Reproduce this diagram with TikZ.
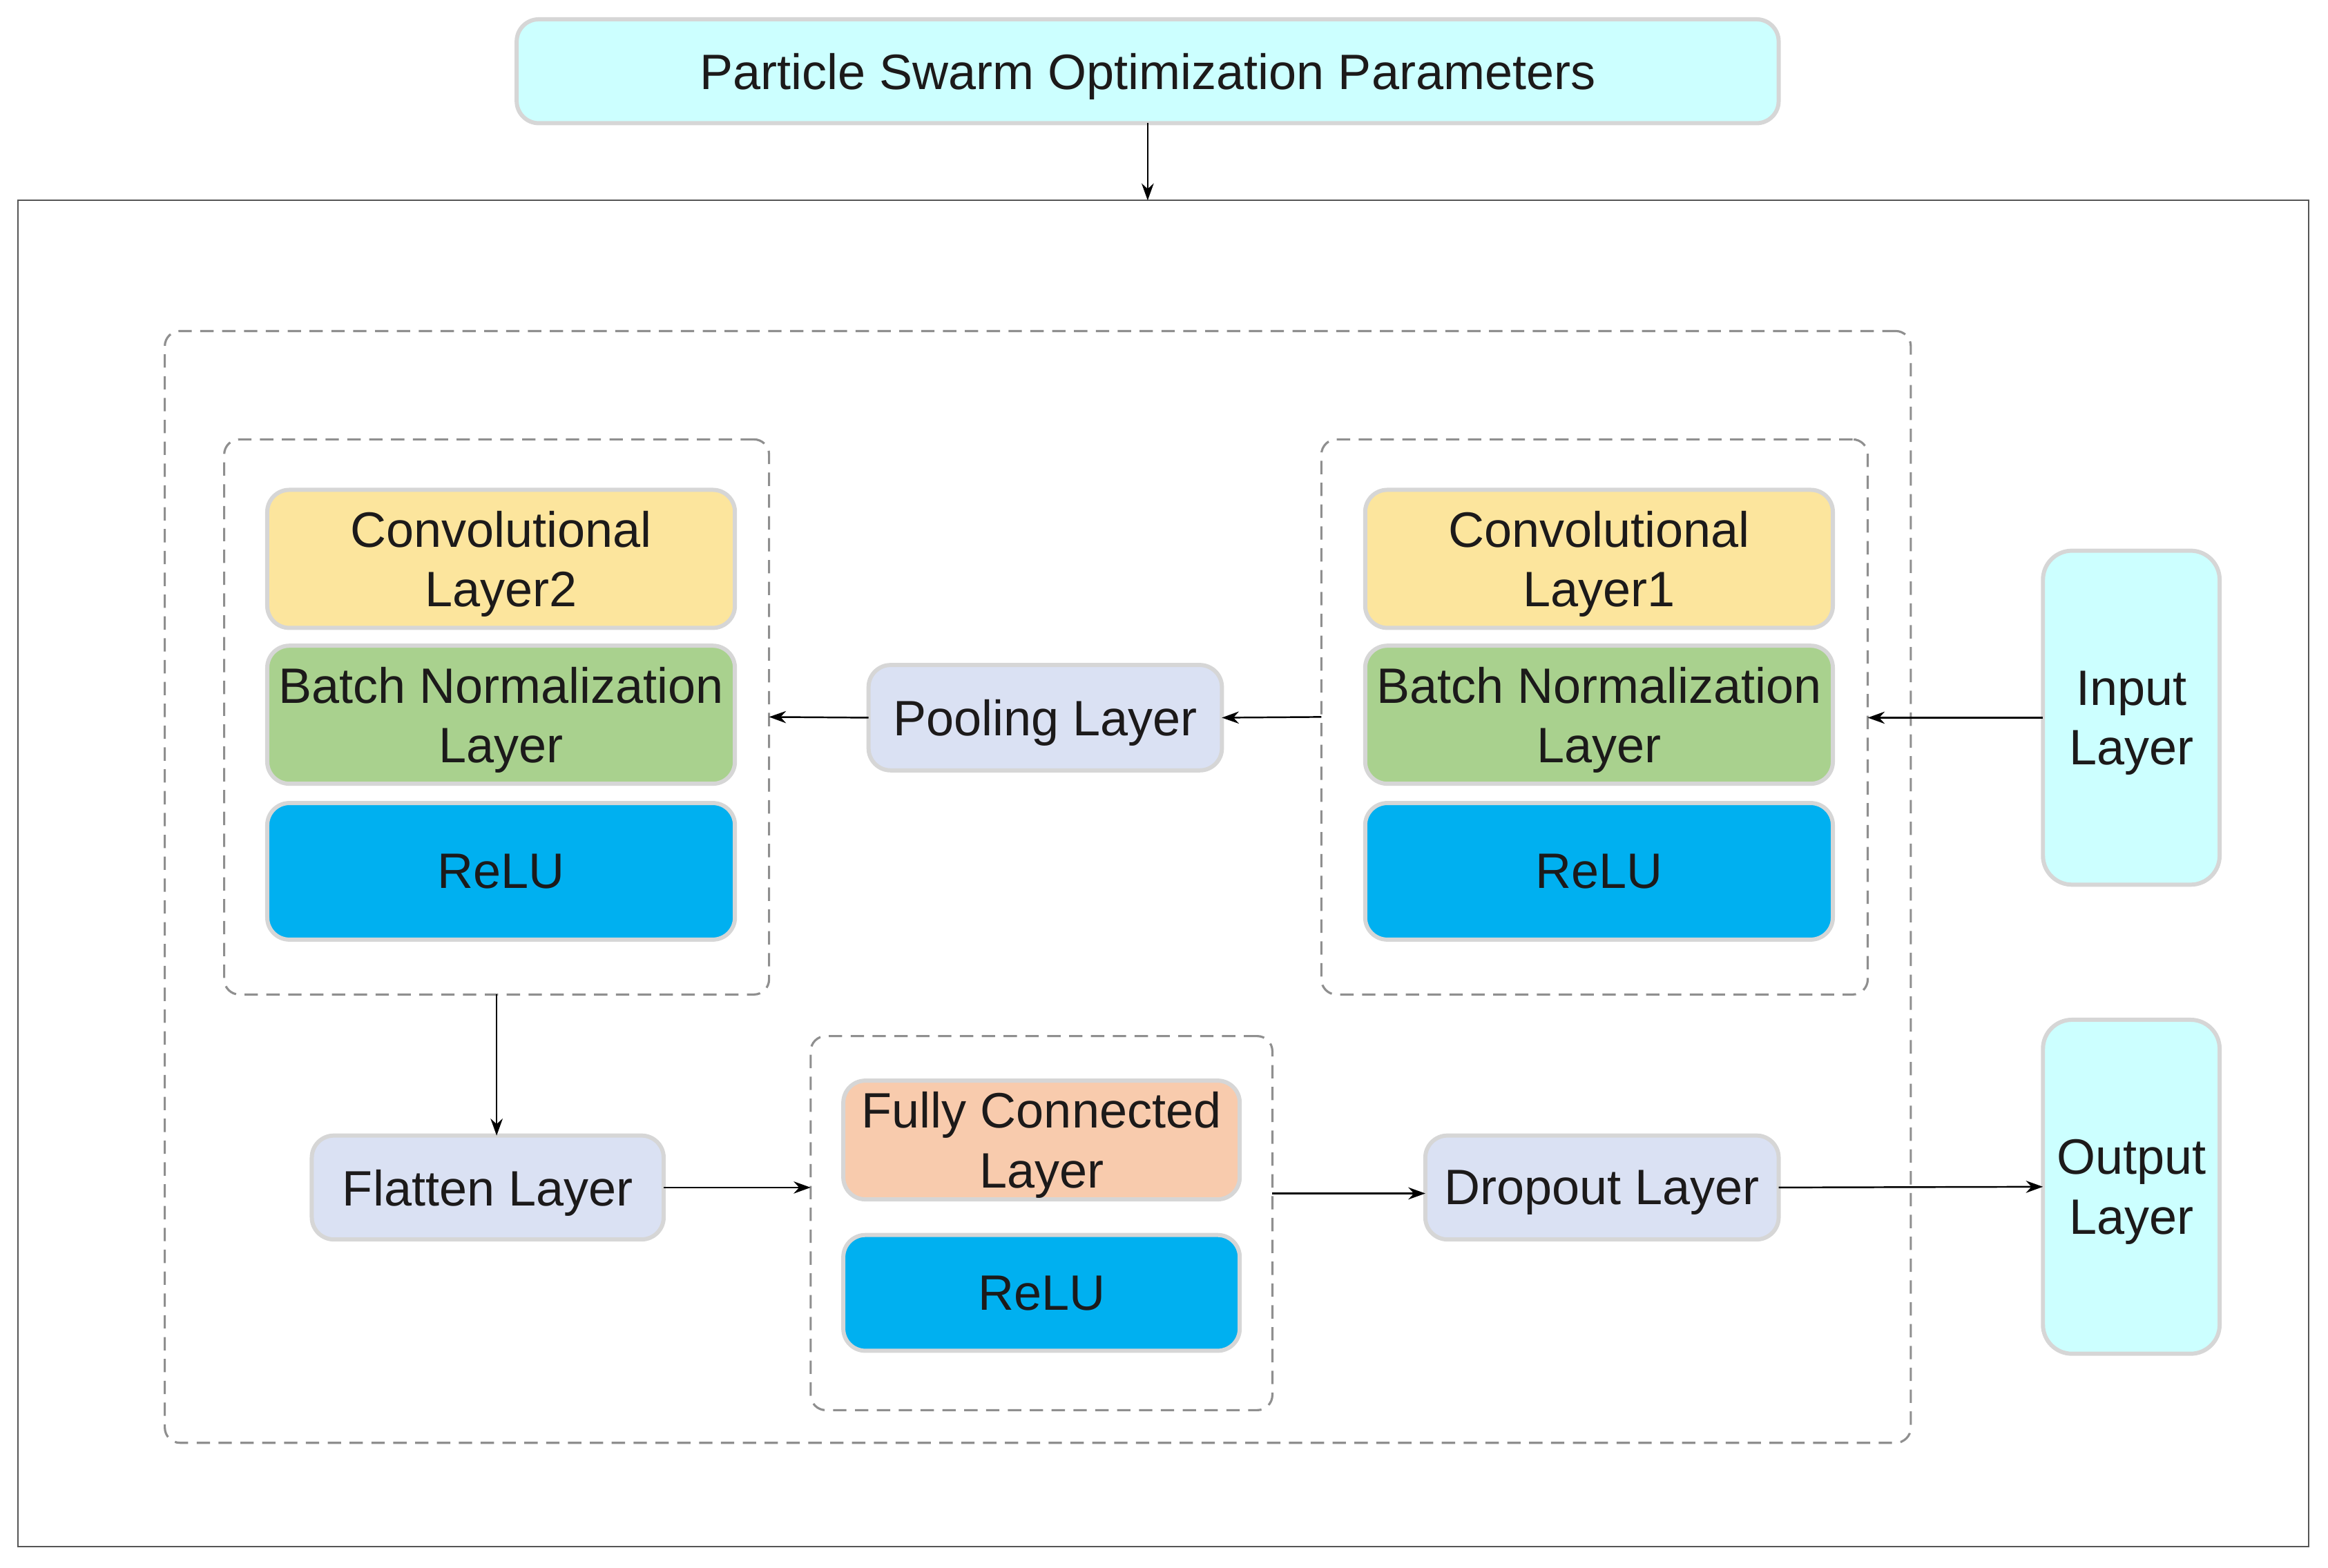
\documentclass[tikz,border=0pt]{standalone}
\usepackage{fontspec}
\setmainfont{Liberation Sans}
\usetikzlibrary{arrows.meta,calc}
\definecolor{cyanbox}{HTML}{CCFFFF}
\definecolor{bordergray}{HTML}{D6D6D6}
\definecolor{yellowbox}{HTML}{FCE59D}
\definecolor{greenbox}{HTML}{A9D18E}
\definecolor{bluebox}{HTML}{00B0F0}
\definecolor{lavbox}{HTML}{DAE1F3}
\definecolor{peachbox}{HTML}{F8CBAD}
\definecolor{dashgray}{HTML}{8F8F8F}
\definecolor{outergray}{HTML}{555555}
\definecolor{txt}{HTML}{1C1A1A}
\def\u{0.0215cm}
\tikzset{
  blk/.style={draw=bordergray, line width=1.7pt, rounded corners=0.32cm, align=center,
    text=txt, font=\fontsize{20.5}{24.6}\selectfont, inner sep=0pt, outer sep=0pt, text depth=0pt},
  grp/.style={draw=dashgray, line width=0.9pt, dash pattern=on 5.5pt off 3.5pt,
    rounded corners=0.22cm, inner sep=0pt, outer sep=0pt},
  arr/.style={draw=black, line width=0.7pt, -{Stealth[length=7pt,width=5pt]}},
  sz/.style n args={2}{minimum width=#1*\u, minimum height=#2*\u}
}
\begin{document}
\begin{tikzpicture}[x=\u, y=-\u]
\useasboundingbox (0,0) rectangle (1568,1056);
% outer frame
\node[draw=outergray, line width=0.6pt, inner sep=0pt, outer sep=0pt, sz={1543}{907}] (outer) at (783.5,588.5) {};
% top box
\node[blk, fill=cyanbox, sz={850}{70}] (pso) at (773,48) {Particle Swarm Optimization Parameters};
% dashed groups
\node[grp, sz={1176}{749}] (big) at (699,597.5) {};
\node[grp, sz={367}{374}] (lgrp) at (334.5,483) {};
\node[grp, sz={368}{374}] (rgrp) at (1074,483) {};
\node[grp, sz={311}{252}] (fcgrp) at (701.5,824) {};
% left conv block
\node[blk, fill=yellowbox, sz={315}{93}] (conv2) at (337.5,376.5) {Convolutional\\Layer2};
\node[blk, fill=greenbox, sz={315}{93}] (bn2) at (337.5,481.5) {Batch Normalization\\Layer};
\node[blk, fill=bluebox, sz={315}{92}] (relu2) at (337.5,587) {ReLU};
% right conv block
\node[blk, fill=yellowbox, sz={315}{93}] (conv1) at (1077,376.5) {Convolutional\\Layer1};
\node[blk, fill=greenbox, sz={315}{93}] (bn1) at (1077,481.5) {Batch Normalization\\Layer};
\node[blk, fill=bluebox, sz={315}{92}] (relu1) at (1077,587) {ReLU};
% pooling
\node[blk, fill=lavbox, sz={238}{71}] (pool) at (704,483.5) {Pooling Layer};
% input / output
\node[blk, fill=cyanbox, rounded corners=0.42cm, sz={119}{225}] (input) at (1435.5,483.5) {Input\\Layer};
\node[blk, fill=cyanbox, rounded corners=0.42cm, sz={119}{225}] (output) at (1435.5,799.5) {Output\\Layer};
% bottom row
\node[blk, fill=lavbox, sz={237}{70}] (flatten) at (328.5,800) {Flatten Layer};
\node[blk, fill=peachbox, sz={267}{80}] (fc) at (701.5,768) {Fully Connected\\Layer};
\node[blk, fill=bluebox, sz={267}{78}] (relu3) at (701.5,871) {ReLU};
\node[blk, fill=lavbox, sz={238}{70}] (dropout) at (1079,800) {Dropout Layer};
% arrows
\draw[arr] (pso.south) -- (pso.south |- outer.north);
\draw[arr] (input.west) -- (input.west -| rgrp.east);
\draw[arr] (rgrp.west) -- (pool.east);
\draw[arr] (pool.west) -- (lgrp.east);
\draw[arr] (lgrp.south) -- (lgrp.south |- flatten.north);
\draw[arr] (flatten.east) -- (flatten.east -| fcgrp.west);
\draw[arr] ([yshift=20*\u]fcgrp.east) -- ([yshift=20*\u]fcgrp.east -| dropout.west);
\draw[arr] (dropout.east) -- (output.west);
\end{tikzpicture}
\end{document}
